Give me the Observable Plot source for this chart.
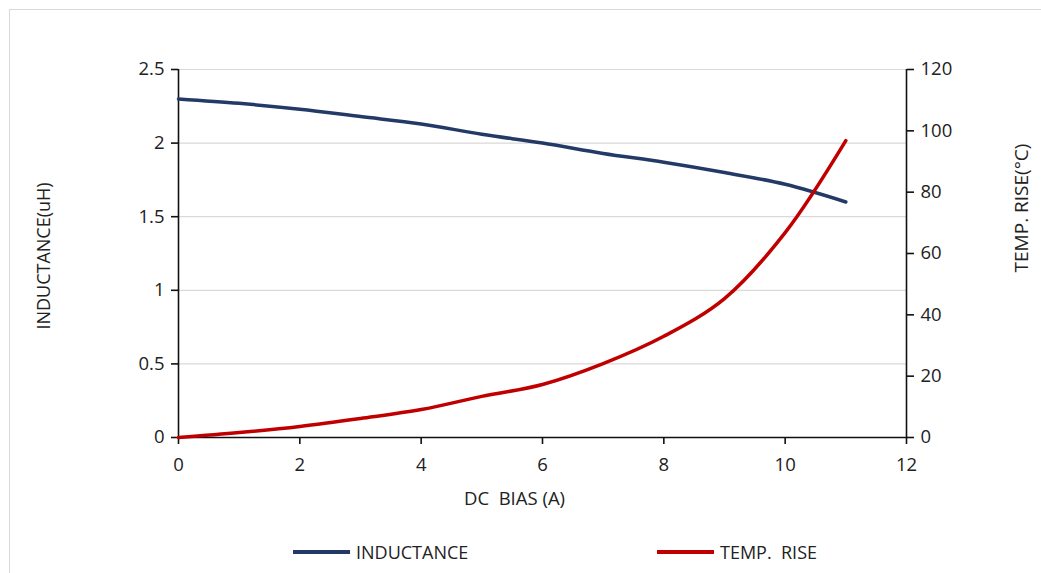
<!DOCTYPE html>
<html>
<head>
<meta charset="utf-8">
<script src="https://cdn.jsdelivr.net/npm/d3@7"></script>
<script src="https://cdn.jsdelivr.net/npm/@observablehq/plot@0.6"></script>
<style>
  html, body { margin: 0; padding: 0; background: #fff; }
  body { width: 1041px; height: 573px; position: relative; overflow: hidden; font-family: "Open Sans", Lato, sans-serif; }
  #frame { position: absolute; left: 9px; top: 9px; width: 1040px; height: 570px; border: 1px solid #d9d9d9; box-sizing: border-box; }
  #chart { position: absolute; left: 0; top: 0; }
  .ytitle { position: absolute; color: #222; white-space: nowrap; transform-origin: center; }
  #ylabL { font-size: 18px; }
  #ylabR { font-size: 19px; }
  #legend { position: absolute; top: 540px; left: 0; width: 1041px; font-size: 18px; color: #222; }
  .item { position: absolute; display: flex; align-items: center; white-space: pre; }
  .swatch { width: 57px; height: 4px; margin-right: 6px; }
</style>
</head>
<body>
<div id="frame"></div>
<div id="chart"></div>
<div class="ytitle" id="ylabL">INDUCTANCE(uH)</div>
<div class="ytitle" id="ylabR">TEMP. RISE(°C)</div>
<div id="legend"></div>
<script>
const bias = [0, 1, 2, 3, 4, 5, 6, 7, 8, 9, 10, 11];
const inductance = [2.30, 2.27, 2.23, 2.18, 2.13, 2.06, 2.00, 1.93, 1.87, 1.80, 1.72, 1.60];
const tempRise = [0, 1.6, 3.6, 6.2, 9.1, 13.4, 17.3, 24.1, 33.0, 45.3, 66.8, 96.8];
const xTicks = [0, 2, 4, 6, 8, 10, 12];
const leftTicks = [0, 0.5, 1, 1.5, 2, 2.5];
const rightTicks = [0, 20, 40, 60, 80, 100, 120];
const seriesNames = ["INDUCTANCE", "TEMP.  RISE"];
const colors = ["#243a66", "#c00000"];

const leftMax = 2.5, rightMax = 120;
const toLeft = v => v * leftMax / rightMax;

const indData = bias.map((x, i) => ({x, y: inductance[i]}));
const tmpData = bias.map((x, i) => ({x, y: tempRise[i]}));

const W = 1041, H = 520;
const font = "'Open Sans', Lato, sans-serif";
const tickFont = 18.5;
const ink = "#222";
const chart = Plot.plot({
  width: W,
  height: H,
  marginLeft: 178,
  marginRight: 135,
  marginTop: 69,
  marginBottom: 83,
  style: { fontFamily: font, fontSize: "18px", color: ink, background: "transparent" },
  x: { domain: [0, 12] },
  y: { domain: [0, leftMax] },
  marks: [
    Plot.ruleY(leftTicks, { stroke: "#d9d9d9", strokeWidth: 1.2 }),
    Plot.axisX({ ticks: xTicks, tickFormat: () => "", tickSize: 7, stroke: "#111", strokeWidth: 1.6, label: null }),
    Plot.axisY({ anchor: "left", ticks: leftTicks, tickFormat: () => "", tickSize: 7, stroke: "#111", strokeWidth: 1.6, label: null }),
    Plot.axisY({ anchor: "right", ticks: rightTicks.map(toLeft), tickFormat: () => "", tickSize: 7, stroke: "#111", strokeWidth: 1.6, label: null }),
    // tick labels as text marks positioned through the scales
    Plot.text(xTicks, { x: d => d, frameAnchor: "bottom", dy: 28, lineAnchor: "middle", text: d => String(d), fontSize: tickFont, fill: ink }),
    Plot.text(leftTicks, { y: d => d, frameAnchor: "left", dx: -14, textAnchor: "end", lineAnchor: "middle", text: d => String(d), fontSize: tickFont, fill: ink }),
    Plot.text(rightTicks, { y: d => toLeft(d), frameAnchor: "right", dx: 14, textAnchor: "start", lineAnchor: "middle", text: d => String(d), fontSize: tickFont, fill: ink }),
    Plot.ruleX([0], { stroke: "#111", strokeWidth: 1.6 }),
    Plot.ruleX([12], { stroke: "#111", strokeWidth: 1.6 }),
    Plot.ruleY([0], { stroke: "#111", strokeWidth: 1.6 }),
    Plot.text(["DC  BIAS (A)"], { frameAnchor: "bottom", dx: -28, dy: 67, fontSize: 18.5, fill: ink, text: d => d, lineAnchor: "bottom" }),
    Plot.line(indData, { x: "x", y: "y", stroke: colors[0], strokeWidth: 3.5, curve: "catmull-rom" }),
    Plot.line(tmpData, { x: "x", y: d => toLeft(d.y), stroke: colors[1], strokeWidth: 3.5, curve: "catmull-rom" })
  ]
});
document.getElementById("chart").appendChild(chart);

// axis titles
const lL = document.getElementById("ylabL");
const rL = document.getElementById("ylabR");
function placeRot(el, cx, cy) {
  const w = el.offsetWidth, h = el.offsetHeight;
  el.style.left = (cx - w / 2) + "px";
  el.style.top = (cy - h / 2) + "px";
  el.style.transform = "rotate(-90deg)";
}
placeRot(lL, 42, 256);
placeRot(rL, 1021, 208);

// legend
const legend = document.getElementById("legend");
const legendX = [293, 657];
seriesNames.forEach((name, i) => {
  const it = document.createElement("div");
  it.className = "item";
  it.style.left = legendX[i] + "px";
  it.innerHTML = `<div class="swatch" style="background:${colors[i]}"></div><span>${name}</span>`;
  legend.appendChild(it);
});
</script>
</body>
</html>
